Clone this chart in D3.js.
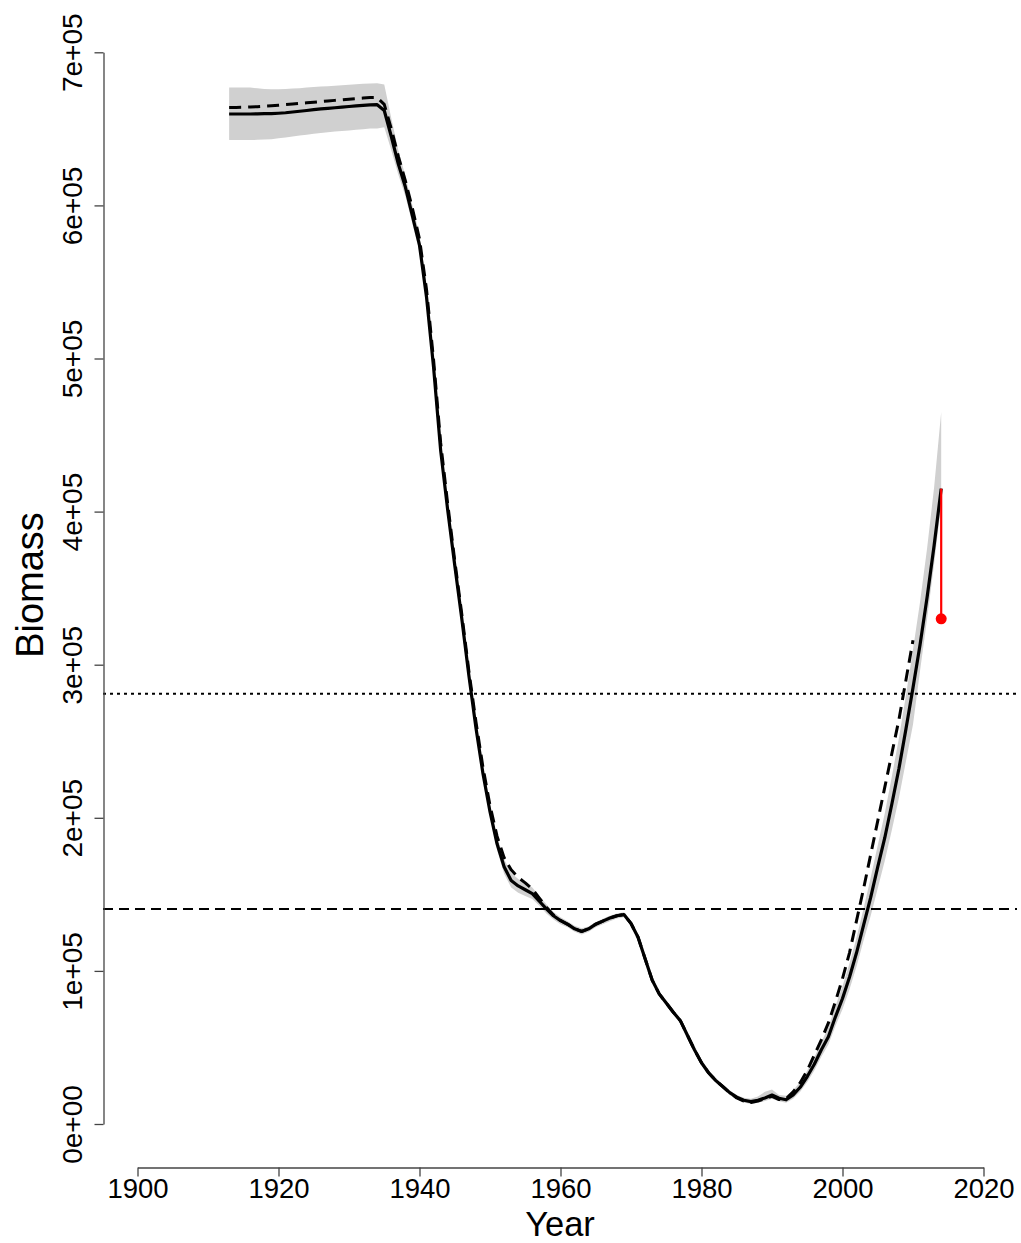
<!DOCTYPE html>
<html>
<head>
<meta charset="utf-8">
<script src="https://cdn.jsdelivr.net/npm/d3@7"></script>
<style>
  html, body { margin: 0; padding: 0; background: #fff; }
  svg { display: block; }
  text { font-family: "Liberation Sans", Arial, Helvetica, sans-serif; fill: #000; }
</style>
</head>
<body>
<svg id="chart" width="1021" height="1243"></svg>
<script>
// Estimated biomass series, 1913-2014
const years = d3.range(1913, 2015);
const biomass = [
  659700, 659700, 659700, 659700, 659800, 659900, 660000, 660200, 660500, 661000,
  661500, 662000, 662500, 663000, 663400, 663800, 664200, 664600, 665000, 665300,
  665600, 665800, 662000, 645000, 627000, 612000, 593000, 574000, 540000, 494000,
  440000, 401000, 365000, 330000, 293000, 259000, 229000, 204000, 183000, 168000,
  159000, 155500, 153000, 150500, 145500, 140500, 136000, 132800, 130500, 127500,
  125800, 127500, 130500, 132500, 134500, 136000, 136800, 131000, 122000, 108000,
  94000, 85000, 79000, 73000, 67500, 58000, 48500, 40000, 33500, 28500,
  24500, 20500, 17500, 15500, 14600, 15500, 17000, 18900, 16800, 15800,
  19000, 24000, 31000, 39000, 48500, 57000, 70000, 82000, 96000, 112000,
  130000, 148000, 168000, 187000, 209000, 232000, 258000, 285000, 313000, 344000,
  378000, 415000
];

// Upper and lower bounds of the uncertainty band, 1913-2014
const bandUpper = [
  677000, 677000, 677000, 677000, 676500, 676000, 675800, 675800, 676000, 676300,
  676600, 677000, 677300, 677600, 677900, 678200, 678500, 678800, 679100, 679400,
  679700, 679800, 679000, 657000, 636000, 619000, 600000, 581000, 547000, 500000,
  445000, 405000, 368000, 333000, 296000, 262000, 232000, 208000, 188000, 173000,
  164000, 160000, 157500, 154500, 149000, 143500, 138500, 135000, 132500, 129500,
  127800, 129000, 132000, 134000, 136000, 137500, 138300, 132500, 123500, 109500,
  95500, 86500, 80500, 74500, 69000, 59500, 50000, 41500, 35000, 30000,
  26000, 22000, 19000, 17200, 16500, 18000, 21000, 22500, 19000, 18500,
  22000, 27500, 35000, 43500, 53500, 63000, 77000, 90000, 105000, 122000,
  141000, 161000, 182000, 203000, 227000, 252000, 280000, 310000, 341000, 376000,
  416000, 465000
];
const bandLower = [
  642700, 642700, 642700, 642700, 642800, 643000, 643200, 643800, 644400, 645000,
  645600, 646200, 646800, 647300, 647800, 648200, 648600, 649000, 649400, 649800,
  650200, 650300, 651000, 636000, 620000, 606000, 588000, 569000, 536000, 490000,
  436000, 397000, 362000, 327000, 290000, 256000, 226000, 201000, 179000, 163500,
  154500, 151000, 149000, 147000, 142500, 137500, 133500, 130500, 128500, 125500,
  123800, 125500, 128500, 130500, 132500, 134200, 135000, 129500, 120500, 106500,
  92500, 83500, 77500, 71500, 66000, 56500, 47000, 38500, 32000, 27000,
  23000, 19000, 16000, 14000, 13000, 13800, 15000, 16500, 14800, 13800,
  16500, 21000, 27500, 35000, 44000, 52000, 64000, 75000, 88000, 103000,
  120000, 136000, 154000, 172000, 192000, 213000, 237000, 261000, 296000, 330000,
  366000, 405000
];

// Alternative run, 1913-2010 (dashed)
const altYears = d3.range(1913, 2011);
const altBiomass = [
  664000, 664000, 664100, 664300, 664500, 664800, 665100, 665400, 665800, 666200,
  666600, 667000, 667400, 667800, 668200, 668600, 669000, 669400, 669800, 670100,
  670400, 670400, 666000, 650000, 632000, 616000, 598000, 578000, 545000, 499000,
  445000, 405000, 368000, 333000, 296000, 263000, 233000, 208000, 188000, 174000,
  166000, 161000, 157500, 153500, 147500, 141500, 136500, 133000, 130500, 127500,
  125800, 127500, 130500, 132500, 134500, 136000, 136800, 131000, 122000, 108000,
  94000, 85000, 79000, 73000, 67500, 58000, 48500, 40000, 33500, 28500,
  24500, 20500, 17000, 15000, 14000, 15000, 16500, 18000, 16000, 16500,
  21000, 27000, 35000, 45000, 55000, 66000, 80000, 95000, 112000, 133000,
  154000, 176000, 198000, 220000, 242000, 264000, 290000, 316000
];

// Reference levels
const refDotted = 281000;
const refDashed = 140500;

// Final-year point and its comparison value
const markYear = [2014];
const markFrom = [415000];
const markTo = [330000];

// Axis ticks
const xTicks = [1900, 1920, 1940, 1960, 1980, 2000, 2020];
const yTicks = [0, 100000, 200000, 300000, 400000, 500000, 600000, 700000];
const yTickLabels = ["0e+00", "1e+05", "2e+05", "3e+05", "4e+05", "5e+05", "6e+05", "7e+05"];

const svg = d3.select("#chart");
const plotLeft = 103, plotRight = 1017;

const x = d3.scaleLinear().domain([1900, 2020]).range([137.5, 983.5]);
const y = d3.scaleLinear().domain([0, 700000]).range([1124, 52.3]);

// Uncertainty band
const bandData = years.map((yr, i) => ({ yr, lo: bandLower[i], hi: bandUpper[i] }));
svg.append("path")
  .datum(bandData)
  .attr("fill", "#d0d0d0")
  .attr("stroke", "none")
  .attr("d", d3.area().x(d => x(d.yr)).y0(d => y(d.lo)).y1(d => y(d.hi)));

// Main series
const line = d3.line().x(d => x(d[0])).y(d => y(d[1]));
svg.append("path")
  .datum(years.map((yr, i) => [yr, biomass[i]]))
  .attr("fill", "none")
  .attr("stroke", "#000")
  .attr("stroke-width", 3.2)
  .attr("stroke-linejoin", "round")
  .attr("d", line);

// Dashed series
svg.append("path")
  .datum(altYears.map((yr, i) => [yr, altBiomass[i]]))
  .attr("fill", "none")
  .attr("stroke", "#000")
  .attr("stroke-width", 3)
  .attr("stroke-dasharray", "12,7")
  .attr("stroke-linejoin", "round")
  .attr("d", line);

// Horizontal reference lines
svg.append("line")
  .attr("x1", plotLeft).attr("x2", plotRight)
  .attr("y1", y(refDotted)).attr("y2", y(refDotted))
  .attr("stroke", "#000").attr("stroke-width", 2)
  .attr("stroke-dasharray", "3,4");
svg.append("line")
  .attr("x1", plotLeft).attr("x2", plotRight)
  .attr("y1", y(refDashed)).attr("y2", y(refDashed))
  .attr("stroke", "#000").attr("stroke-width", 2)
  .attr("stroke-dasharray", "10,6");

// Red marker: drop from the final estimate to the comparison value
svg.selectAll("line.mark")
  .data(markYear)
  .enter().append("line")
  .attr("class", "mark")
  .attr("x1", d => x(d)).attr("x2", d => x(d))
  .attr("y1", (d, i) => y(markFrom[i])).attr("y2", (d, i) => y(markTo[i]))
  .attr("stroke", "#ff0000").attr("stroke-width", 2.2);
svg.selectAll("circle.mark")
  .data(markYear)
  .enter().append("circle")
  .attr("class", "mark")
  .attr("cx", d => x(d)).attr("cy", (d, i) => y(markTo[i]))
  .attr("r", 5.5)
  .attr("fill", "#ff0000");

// Axes
const xAxis = svg.append("g")
  .attr("transform", "translate(0,1167.5)")
  .call(d3.axisBottom(x).tickValues(xTicks).tickFormat(d3.format("d")).tickSize(9).tickSizeOuter(0));
xAxis.select(".domain").attr("stroke", "#444").attr("stroke-width", 1.3);
xAxis.selectAll(".tick line").attr("stroke", "#444").attr("stroke-width", 1.3);
xAxis.selectAll(".tick text")
  .attr("y", 0).attr("dy", null)
  .attr("transform", "translate(0,30.5)")
  .style("font-size", "27.5px")
  .style("font-family", "'Liberation Sans', Arial, sans-serif")
  .attr("fill", "#000");

const yAxis = svg.append("g")
  .attr("transform", "translate(103.5,0)")
  .call(d3.axisLeft(y).tickValues(yTicks).tickFormat((d, i) => yTickLabels[i]).tickSize(9).tickSizeOuter(0));
yAxis.select(".domain").attr("stroke", "#444").attr("stroke-width", 1.3);
yAxis.selectAll(".tick line").attr("stroke", "#444").attr("stroke-width", 1.3);
yAxis.selectAll(".tick text")
  .attr("x", null).attr("dy", null)
  .attr("text-anchor", "middle")
  .attr("transform", "translate(-22,0) rotate(-90)")
  .style("font-size", "28px")
  .style("font-family", "'Liberation Sans', Arial, sans-serif")
  .attr("fill", "#000");

// Axis titles
svg.append("text")
  .attr("x", (plotLeft + plotRight) / 2)
  .attr("y", 1235.5)
  .attr("text-anchor", "middle")
  .style("font-size", "34.5px")
  .text("Year");
svg.append("text")
  .attr("transform", "translate(43,585) rotate(-90)")
  .attr("text-anchor", "middle")
  .style("font-size", "38px")
  .text("Biomass");
</script>
</body>
</html>
